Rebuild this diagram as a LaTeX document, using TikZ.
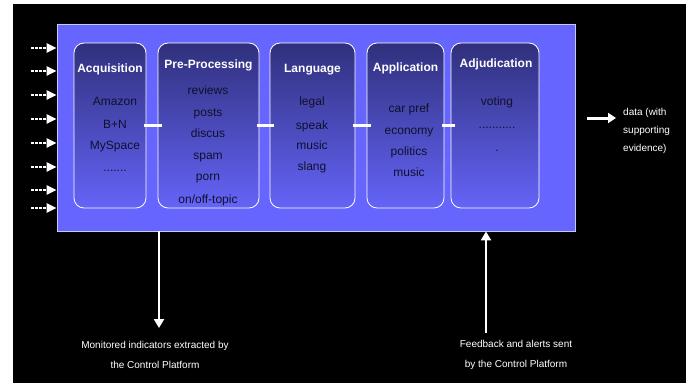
\documentclass[tikz,border=0pt]{standalone}
\usepackage{fontspec}
\setmainfont{Liberation Sans}
\usetikzlibrary{arrows.meta}
\definecolor{outerblue}{HTML}{6666FF}
\definecolor{navytop}{HTML}{30307C}
\definecolor{boxbottom}{HTML}{6464F8}
\definecolor{itemtxt}{HTML}{10102C}
\definecolor{edgelav}{HTML}{C8C8FF}
\tikzset{
  stagebox/.style={draw=white, line width=0.8pt, rounded corners=10pt,
    top color=navytop, bottom color=boxbottom, minimum height=165pt, inner sep=0pt},
  titletxt/.style={text=white, font=\fontsize{12}{14}\selectfont\bfseries, inner sep=0pt, anchor=base},
  itemstxt/.style={text=itemtxt, font=\fontsize{12}{14}\selectfont, inner sep=0pt, anchor=base},
  conn/.style={draw=white, line width=2.5pt, shorten <=-2pt, shorten >=-4pt},
  inarrow/.style={draw=white, line width=2.5pt, dash pattern=on 2.5pt off 1.5pt,
    -{Triangle[length=10pt,width=9pt]}},
  bigarrow/.style={draw=white, line width=2pt, -{Triangle[length=9pt,width=10pt]}},
  smalltxt/.style={text=white, font=\fontsize{10}{20}\selectfont, inner sep=0pt}
}
\begin{document}
\begin{tikzpicture}[x=1pt,y=-1pt]
\useasboundingbox (0,0) rectangle (686,383);
\fill[white] (0,0) rectangle (686,383);
\fill[black] (13,4) rectangle (686,383);
% outer frame
\node[draw=edgelav, line width=0.8pt, fill=outerblue, minimum width=518pt, minimum height=207pt, inner sep=0pt] (outer) at (316,127.5) {};
% stage boxes
\node[stagebox, minimum width=72pt] (b1) at (110,125.5) {};
\node[stagebox, minimum width=101pt] (b2) at (208.5,125.5) {};
\node[stagebox, minimum width=85pt] (b3) at (312.5,125.5) {};
\node[stagebox, minimum width=77pt] (b4) at (405.5,125.5) {};
\node[stagebox, minimum width=88pt] (b5) at (495,125.5) {};
% titles (base = visual centre + 4.3)
\node[titletxt] (t1) at (110,72.3) {Acquisition};
\node[titletxt] (t2) at (208.5,68.3) {Pre-Processing};
\node[titletxt] (t3) at (312.5,72.3) {Language};
\node[titletxt] (t4) at (405.5,71.3) {Application};
\node[titletxt] (t5) at (496,67.3) {Adjudication};
% items (base = visual centre + 4)
\node[itemstxt] (a1) at (115,105) {Amazon};
\node[itemstxt] (a2) at (115,128) {B+N};
\node[itemstxt] (a3) at (115,149) {MySpace};
\node[itemstxt] (a4) at (115,171) {.......};
\node[itemstxt] (p1) at (208,94) {reviews};
\node[itemstxt] (p2) at (208,116) {posts};
\node[itemstxt] (p3) at (208,137) {discus};
\node[itemstxt] (p4) at (208,159) {spam};
\node[itemstxt] (p5) at (208,180) {porn};
\node[itemstxt] (p6) at (208,203) {on/off-topic};
\node[itemstxt] (l1) at (312,105) {legal};
\node[itemstxt] (l2) at (312,129) {speak};
\node[itemstxt] (l3) at (312,149) {music};
\node[itemstxt] (l4) at (312,170) {slang};
\node[itemstxt] (c1) at (409,112) {car pref};
\node[itemstxt] (c2) at (409,134) {economy};
\node[itemstxt] (c3) at (409,155) {politics};
\node[itemstxt] (c4) at (409,176) {music};
\node[itemstxt] (d1) at (497,105) {voting};
\node[itemstxt] (d2) at (497,128) {...........};
\node[itemstxt] (d3) at (497,151) {.};
% connectors between stages
\draw[conn] (b1) -- (b2);
\draw[conn] (b2) -- (b3);
\draw[conn] (b3) -- (b4);
\draw[conn] (b4) -- (b5);
% input arrows
\foreach \yy [count=\i] in {48,71,95,119,143,167,190,208}{
  \coordinate (in\i) at (31,\yy);
  \draw[inarrow] (in\i) -- (in\i -| outer.west);
}
% output arrow
\coordinate (outs) at (587,118);
\coordinate (oute) at (616,118);
\draw[draw=white, line width=3pt, -{Triangle[length=8pt,width=10pt]}] (outs) -- (oute);
\node[smalltxt, anchor=west, align=left, font=\fontsize{10}{18}\selectfont] (outtxt) at (623,131) {data (with\\supporting\\evidence)};
% bottom arrows
\coordinate (downend) at (159,328);
\draw[bigarrow] (outer.south -| downend) -- (downend);
\coordinate (upstart) at (486,333);
\draw[bigarrow] (upstart) -- (upstart |- outer.south);
\node[smalltxt, align=center] (montxt) at (155,355) {Monitored indicators extracted by\\the Control Platform};
\node[smalltxt, align=center] (fbtxt) at (516,355) {Feedback and alerts sent\\by the Control Platform};
\end{tikzpicture}
\end{document}
